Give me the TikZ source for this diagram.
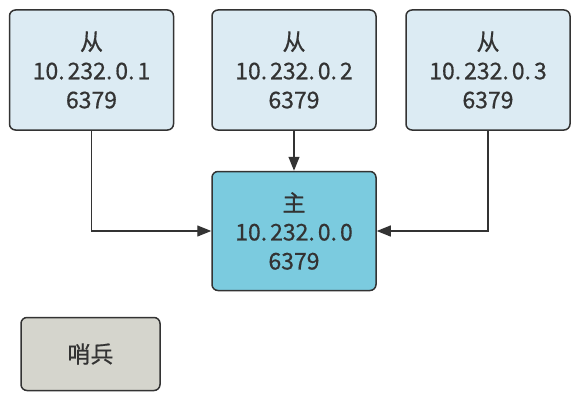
\documentclass[tikz,border=0pt]{standalone}
\usepackage{fontspec}
\setmainfont{Noto Sans CJK SC}
\newfontfamily\boxfont{Noto Sans CJK SC}[FakeBold=0.6]
\usetikzlibrary{arrows.meta}
\definecolor{slavefill}{HTML}{DCEBF3}
\definecolor{masterfill}{HTML}{7BCBDF}
\definecolor{sentfill}{HTML}{D5D5CD}
\definecolor{edge}{HTML}{333333}
\newcommand{\pd}{.\kern3pt}
\tikzset{
  box/.style={draw=edge, line width=1.5pt, rounded corners=6pt, text=edge,
    align=center, font=\boxfont\fontsize{23}{29}\selectfont, inner sep=0pt},
  conn/.style={draw=edge, line width=1.2pt, -{Triangle[length=14pt,width=11pt]}},
}
\begin{document}
\begin{tikzpicture}[x=1pt,y=-1pt]
\useasboundingbox (0,0) rectangle (586,404);
\node[box, fill=slavefill, minimum width=164pt, minimum height=120pt] (s1) at (91.5,70) {从\\10\pd232\pd0\pd1\\6379};
\node[box, fill=slavefill, minimum width=164pt, minimum height=120pt] (s2) at (294,70) {从\\10\pd232\pd0\pd2\\6379};
\node[box, fill=slavefill, minimum width=164pt, minimum height=120pt] (s3) at (488,70) {从\\10\pd232\pd0\pd3\\6379};
\node[box, fill=masterfill, minimum width=164pt, minimum height=119pt] (m) at (294,231) {主\\10\pd232\pd0\pd0\\6379};
\node[box, fill=sentfill, minimum width=139pt, minimum height=73pt] (sen) at (90.5,354) {哨兵};
\draw[conn] (s1.south) |- (m.west);
\draw[conn] (s2.south) -- (m.north);
\draw[conn] (s3.south) |- (m.east);
\end{tikzpicture}
\end{document}
